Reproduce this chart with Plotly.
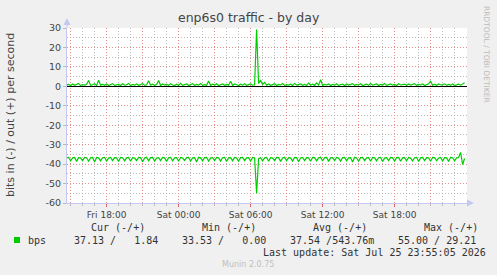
import pandas as pd
import plotly.graph_objects as go

# ---------------- data ----------------
start_time = "2026-07-24 14:40"
step = "10min"

out_bps = [
    0.6, 1.0, 0.4, 1.2, 0.5, 0.8, 1.5, 0.4, 0.9, 0.6,
    1.1, 3.0, 0.5, 0.8, 1.3, 0.4, 3.1, 0.6, 1.0, 0.5,
    1.2, 0.4, 0.9, 1.4, 0.5, 0.7, 1.0, 0.4, 1.3, 0.6,
    0.8, 1.5, 0.4, 1.0, 0.6, 1.2, 0.5, 0.9, 1.4, 0.5,
    0.8, 2.9, 0.6, 1.1, 0.5, 0.9, 3.0, 0.4, 1.2, 0.6,
    1.0, 0.5, 1.3, 0.7, 0.4, 1.1, 0.6, 1.5, 0.5, 0.9,
    1.2, 0.4, 0.8, 1.3, 0.5, 1.0, 0.6, 1.4, 0.5, 0.9,
    0.6, 2.7, 0.5, 1.1, 0.7, 1.3, 0.4, 0.9, 1.2, 0.5,
    1.0, 0.6, 2.6, 0.5, 1.2, 0.8, 0.4, 1.1, 0.6, 1.3,
    0.5, 0.9, 1.2, 0.6, 0.8, 29.2, 1.5, 3.0, 1.0, 2.0,
    0.6, 1.2, 0.5, 0.9, 1.3, 0.4, 1.0, 0.7, 1.4, 0.5,
    0.9, 0.6, 1.1, 0.4, 1.5, 0.6, 0.9, 1.2, 0.5, 1.0,
    0.4, 1.6, 0.7, 1.1, 0.5, 1.8, 0.6, 3.4, 0.5, 1.0,
    0.7, 1.2, 0.4, 1.0, 0.6, 1.3, 0.5, 0.9, 1.1, 0.4,
    1.2, 0.6, 0.9, 1.4, 0.5, 1.0, 0.7, 1.3, 0.4, 0.8,
    1.1, 0.5, 1.4, 0.6, 0.9, 1.2, 0.4, 1.0, 0.7, 1.5,
    0.5, 0.9, 1.2, 0.6, 1.0, 0.4, 1.3, 0.7, 0.9, 1.1,
    0.5, 1.2, 0.6, 0.9, 1.4, 0.5, 1.0, 0.7, 1.2, 0.4,
    0.9, 1.3, 2.6, 0.6, 1.0, 0.5, 1.2, 0.7, 0.9, 1.3,
    0.5, 1.0, 0.6, 1.2, 0.4, 0.9, 1.1, 0.6, 1.0, 1.8,
]

in_bps = [
    36.7, 36.5, 38.3, 36.8, 36.6, 38.6, 36.7, 36.9, 38.2, 36.5, 36.7, 38.5, 36.8, 36.6, 38.9,
    36.6, 36.8, 38.3, 36.7, 36.5, 38.4, 36.9, 36.6, 38.2, 36.7, 36.8, 38.7, 36.5, 36.7, 38.3,
    36.8, 36.6, 38.5, 36.7, 36.9, 38.2, 36.6, 36.7, 38.8, 36.8, 36.5, 38.3, 36.7, 36.6, 38.4,
    36.9, 36.7, 38.2, 36.6, 36.8, 38.6, 36.7, 36.5, 38.3, 36.8, 36.7, 38.5, 36.6, 36.9, 38.2,
    36.7, 36.6, 38.4, 36.8, 36.7, 38.9, 36.5, 36.8, 38.3, 36.7, 36.6, 38.5, 36.9, 36.7, 38.2,
    36.6, 36.8, 38.4, 36.7, 36.5, 38.6, 36.8, 36.7, 38.3, 36.6, 36.9, 38.5, 36.7, 36.6, 38.2,
    36.8, 36.7, 38.4, 36.6, 36.8, 55.0, 37.2, 36.7, 38.3, 36.8, 36.6, 38.5, 36.7, 36.9, 38.2,
    36.6, 36.7, 38.6, 36.8, 36.5, 38.3, 36.7, 36.8, 38.4, 36.6, 36.7, 38.8, 36.9, 36.6, 38.2,
    36.7, 36.8, 38.5, 36.6, 36.7, 38.3, 36.8, 36.5, 38.4, 36.7, 36.6, 38.6, 36.8, 36.7, 38.2,
    36.6, 36.9, 38.5, 36.7, 36.6, 38.3, 36.8, 36.7, 38.9, 36.5, 36.8, 38.4, 36.7, 36.6, 38.2,
    36.8, 36.7, 38.5, 36.6, 36.8, 38.3, 36.7, 36.5, 38.6, 36.9, 36.7, 38.2, 36.6, 36.8, 38.4,
    36.7, 36.6, 38.5, 36.8, 36.7, 38.3, 36.6, 36.9, 38.4, 36.7, 36.5, 38.7, 36.8, 36.6, 38.2,
    36.7, 36.8, 38.5, 36.6, 36.7, 38.3, 36.9, 36.6, 38.4, 36.7, 36.8, 38.6, 36.5, 36.7, 38.3,
    36.8, 36.6, 34.0, 40.2, 37.1,
]

y_tick_vals = [30, 20, 10, 0, -10, -20, -30, -40, -50, -60]
y_tick_text = ["30", "20", "10", "0", "-10", "-20", "-30", "-40", "-50", "-60"]

x_major = pd.date_range("2026-07-24 15:00", "2026-07-25 21:00", freq="3h")
x_major_text = ["", "Fri 18:00", "", "Sat 00:00", "", "Sat 06:00", "", "Sat 12:00", "", "Sat 18:00", ""]
x_minor = pd.date_range("2026-07-24 15:00", "2026-07-25 23:00", freq="1h")
x_range = ["2026-07-24 14:42", "2026-07-26 00:02"]

title = "enp6s0 traffic - by day"
y_title = "bits in (-) / out (+) per second"
series_name = "bps"
legend_headers = ["Cur (-/+)", "Min (-/+)", "Avg (-/+)", "Max (-/+)"]
legend_values = ["37.13 /   1.84", "33.53 /   0.00", "37.54 /543.76m", "55.00 / 29.21"]
last_update = "Last update: Sat Jul 25 23:55:05 2026"
footer = "Munin 2.0.75"
side_text = "RRDTOOL / TOBI OETIKER"

# ---------------- layout helpers ----------------
W, H = 497, 275
L, R, T, B = 67, 30, 28, 72
PW, PH = W - L - R, H - T - B


def px(x):
    return (x - L) / PW


def py(y):
    return (H - B - y) / PH


def nb(s):
    return s.replace(" ", "\u00a0")


GREEN = "#00CC00"
AXIS = "#c4c8f0"
TXT = "#444444"
MAJOR_GRID = "rgba(235,130,130,0.8)"
MINOR_GRID = "rgba(160,160,160,0.7)"
DOTS = "1px,2px"

times = pd.date_range(start_time, periods=len(out_bps), freq=step)

fig = go.Figure()
fig.add_trace(go.Scatter(x=times, y=out_bps, mode="lines",
                         line=dict(color=GREEN, width=1.2), hoverinfo="skip"))
fig.add_trace(go.Scatter(x=times, y=[-v for v in in_bps], mode="lines",
                         line=dict(color=GREEN, width=1.2), hoverinfo="skip"))

fig.update_layout(
    width=W, height=H,
    margin=dict(l=L, r=R, t=T, b=B, pad=0),
    paper_bgcolor="#F0F0F0", plot_bgcolor="#FFFFFF",
    showlegend=False,
    font=dict(family="DejaVu Sans", size=9, color=TXT),
)

fig.update_xaxes(
    type="date", range=x_range,
    tickmode="array", tickvals=x_major, ticktext=x_major_text,
    showgrid=True, gridcolor=MAJOR_GRID, griddash=DOTS, gridwidth=1,
    ticks="outside", ticklen=3, tickcolor="rgba(230,90,90,0.9)",
    tickfont=dict(family="DejaVu Sans", size=9, color=TXT),
    showline=True, linecolor=AXIS, linewidth=1,
    zeroline=False,
    minor=dict(tickvals=x_minor, showgrid=True, gridcolor=MINOR_GRID,
               griddash=DOTS, ticks="outside", ticklen=2, tickcolor="#b8b8b8"),
)

fig.update_yaxes(
    range=[-60, 30],
    tickmode="array", tickvals=y_tick_vals, ticktext=y_tick_text,
    showgrid=True, gridcolor=MAJOR_GRID, griddash=DOTS, gridwidth=1,
    ticks="outside", ticklen=3, tickcolor="#b8b8b8",
    tickfont=dict(family="DejaVu Sans", size=9.5, color=TXT),
    showline=True, linecolor=AXIS, linewidth=1,
    zeroline=True, zerolinecolor="#000000", zerolinewidth=1,
    minor=dict(dtick=5, tick0=0, showgrid=True, gridcolor=MINOR_GRID,
               griddash=DOTS),
)

shapes = []
# axis arrows
shapes.append(dict(type="path", xref="paper", yref="paper",
                   path=f"M {px(67)} {py(18)} L {px(63.5)} {py(25)} L {px(70.5)} {py(25)} Z",
                   fillcolor=AXIS, line=dict(width=0)))
shapes.append(dict(type="line", xref="paper", yref="paper",
                   x0=px(67), x1=px(67), y0=py(28), y1=py(22), line=dict(color=AXIS, width=1)))
shapes.append(dict(type="path", xref="paper", yref="paper",
                   path=f"M {px(474)} {py(203)} L {px(467)} {py(199.5)} L {px(467)} {py(206.5)} Z",
                   fillcolor=AXIS, line=dict(width=0)))
# legend colour box
shapes.append(dict(type="rect", xref="paper", yref="paper",
                   x0=px(14), x1=px(20), y0=py(243), y1=py(237),
                   fillcolor=GREEN, line=dict(width=0)))
fig.update_layout(shapes=shapes)

ann = []
ann.append(dict(text=title, x=px(248.5), y=py(18), xref="paper", yref="paper",
                showarrow=False, xanchor="center", yanchor="middle",
                font=dict(family="DejaVu Sans", size=12.5, color=TXT)))
ann.append(dict(text=y_title, x=px(10), y=py(115), xref="paper", yref="paper",
                showarrow=False, xanchor="center", yanchor="middle", textangle=-90,
                font=dict(family="DejaVu Sans", size=11, color=TXT)))
ann.append(dict(text=side_text, x=px(487), y=py(54), xref="paper", yref="paper",
                showarrow=False, xanchor="center", yanchor="middle", textangle=90,
                font=dict(family="DejaVu Sans", size=7.5, color="#bbbbbb")))
MONO = dict(family="DejaVu Sans Mono", size=10, color="#333333")
head_x = [90, 201, 312, 423]
val_x = [73, 181, 289, 397]
for hx, h in zip(head_x, legend_headers):
    ann.append(dict(text=nb(h), x=px(hx), y=py(227), xref="paper", yref="paper",
                    showarrow=False, xanchor="left", yanchor="middle", borderpad=0, font=MONO))
for vx, v in zip(val_x, legend_values):
    ann.append(dict(text=nb(v), x=px(vx), y=py(240), xref="paper", yref="paper",
                    showarrow=False, xanchor="left", yanchor="middle", borderpad=0, font=MONO))
ann.append(dict(text=series_name, x=px(27), y=py(240), xref="paper", yref="paper",
                showarrow=False, xanchor="left", yanchor="middle", borderpad=0, font=MONO))
ann.append(dict(text=nb(last_update), x=px(262), y=py(253), xref="paper", yref="paper",
                showarrow=False, xanchor="left", yanchor="middle", borderpad=0, font=MONO))
ann.append(dict(text=footer, x=px(248), y=py(264), xref="paper", yref="paper",
                showarrow=False, xanchor="center", yanchor="middle", borderpad=0,
                font=dict(family="DejaVu Sans", size=8, color="#c0c0c0")))
fig.update_layout(annotations=ann)

fig.write_html("out.html")
